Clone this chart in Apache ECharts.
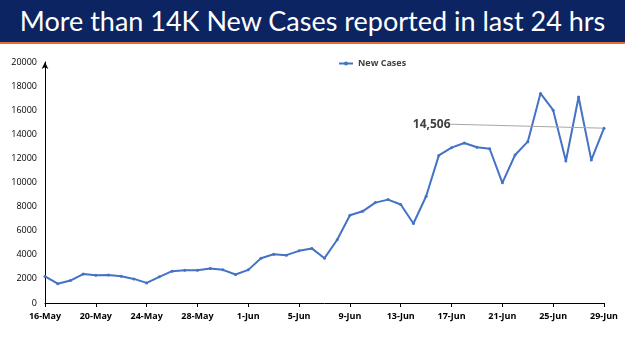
<!DOCTYPE html>
<html><head><meta charset="utf-8">
<script src="https://cdn.jsdelivr.net/npm/echarts@6/dist/echarts.min.js"></script>
<style>
html,body{margin:0;padding:0;background:#fff;}
#banner{position:absolute;left:0;top:0;width:625px;height:42px;background:#0c2461;border-bottom:2px solid #e0703a;color:#fff;font-family:Lato,"Open Sans",sans-serif;font-size:27px;line-height:42px;text-align:center;white-space:nowrap;}
#chart{position:absolute;left:0;top:0;width:625px;height:351px;}
</style>
</head><body>
<div id="chart"></div>
<div id="banner">More than 14K New Cases reported in last 24 hrs</div>
<script>
const dates = ["16-May","17-May","18-May","19-May","20-May","21-May","22-May","23-May","24-May","25-May","26-May","27-May","28-May","29-May","30-May","31-May",
"1-Jun","2-Jun","3-Jun","4-Jun","5-Jun","6-Jun","7-Jun","8-Jun","9-Jun","10-Jun","11-Jun","12-Jun","13-Jun","14-Jun","15-Jun","16-Jun","17-Jun","18-Jun","19-Jun","20-Jun","21-Jun","22-Jun","23-Jun","24-Jun","25-Jun","26-Jun","27-Jun","28-Jun","29-Jun"];
const newCases = [2200,1600,1860,2400,2300,2330,2220,2000,1670,2170,2640,2720,2720,2860,2750,2360,
2750,3720,4050,3970,4330,4530,3720,5250,7280,7610,8330,8580,8170,6600,8860,12250,12890,13280,12920,12800,9970,12280,13390,17390,16000,11780,17100,11860,14506];
const yTicks = {min:0, max:20000, interval:2000};
const seriesName = "New Cases";
const annotatedLabel = "14,506";

const last = newCases.length-1;
const chart = echarts.init(document.getElementById('chart'));
const data = newCases.map((v,i)=> i===last ? {
  value:v,
  label:{show:true, formatter:annotatedLabel, position:'left', color:'#404040', fontSize:12, fontWeight:'bold', fontFamily:'Open Sans, sans-serif'}
} : v);
chart.setOption({
  animation:false,
  legend:{top:54, left:333, itemWidth:14, itemHeight:5, itemGap:4, textStyle:{fontSize:9, color:'#404040', fontWeight:'bold', fontFamily:'Open Sans, sans-serif'}, data:[seriesName]},
  grid:{left:45, right:21, top:62, bottom:48},
  xAxis:{type:'category', data:dates, boundaryGap:false,
    axisLine:{lineStyle:{color:'#000', width:1}},
    axisTick:{show:true, interval:3, length:4, lineStyle:{color:'#000'}},
    axisLabel:{interval:3, color:'#000', fontSize:9, fontWeight:'bold', fontFamily:'Open Sans, sans-serif', margin:9}
  },
  yAxis:{type:'value', min:yTicks.min, max:yTicks.max, interval:yTicks.interval,
    splitLine:{show:false},
    axisLine:{show:true, symbol:['none','arrow'], symbolSize:[5,7], lineStyle:{color:'#000', width:1}},
    axisTick:{show:false},
    axisLabel:{color:'#000', fontSize:9, fontFamily:'Open Sans, sans-serif', margin:8, formatter:(v)=>String(v)}
  },
  series:[{name:seriesName, type:'line', data:data, symbol:'circle', symbolSize:3,
    lineStyle:{color:'#4472c4', width:2}, itemStyle:{color:'#4472c4'},
    label:{show:false},
    labelLine:{show:true, lineStyle:{color:'#a6a6a6', width:1}},
    labelLayout:function(p){ return p.dataIndex===last ? {dx:-147, dy:-4} : {}; }
  }]
});
</script>
</body></html>
